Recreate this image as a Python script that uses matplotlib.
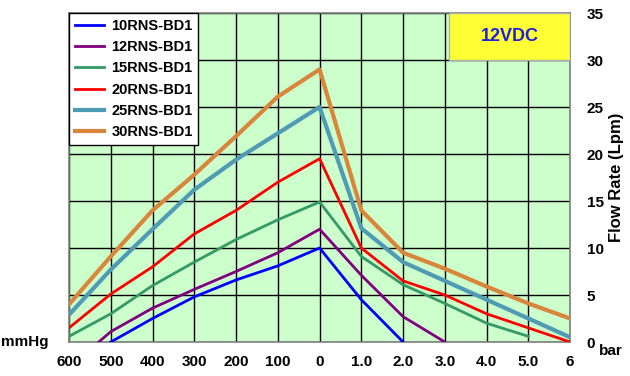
import matplotlib
matplotlib.use("Agg")
import matplotlib.pyplot as plt
import numpy as np

plt.rcParams["font.family"] = ["Liberation Sans", "DejaVu Sans"]
plt.rcParams["font.weight"] = "bold"

# x axis: vacuum side in mmHg (600 -> 0), then pressure side in bar (0 -> 6)
TICK_LABELS = ["600", "500", "400", "300", "200", "100", "0",
               "1.0", "2.0", "3.0", "4.0", "5.0", "6"]

VAC_MMHG = [600, 500, 400, 300, 200, 100, 0]
PRES_BAR = [1.0, 2.0, 3.0, 4.0, 5.0, 6.0]

# flow rate (Lpm) per model: vacuum values then pressure values
vac_10 = [None, 0.0, 2.5, 4.8, 6.6, 8.1, 10.0]
pres_10 = [4.5, 0.0, None, None, None, None]

vac_12 = [None, 1.1, 3.6, 5.6, 7.5, 9.5, 12.0]
pres_12 = [7.1, 2.7, 0.0, None, None, None]
start_12 = (534, -0.2)  # purple line begins between 600 and 500 mmHg

vac_15 = [0.6, 3.0, 6.0, 8.5, 10.9, 13.0, 14.9]
pres_15 = [9.1, 6.1, 4.1, 2.0, 0.6, None]

vac_20 = [1.5, 5.1, 8.0, 11.5, 14.0, 17.0, 19.5]
pres_20 = [10.0, 6.5, 5.0, 3.0, 1.5, 0.0]

vac_25 = [2.9, 7.7, 12.0, 16.2, 19.4, 22.2, 25.0]
pres_25 = [12.1, 8.5, 6.5, 4.5, 2.5, 0.5]

vac_30 = [4.0, 9.1, 14.0, 17.8, 21.9, 26.1, 29.0]
pres_30 = [14.0, 9.5, 7.8, 5.9, 4.1, 2.5]

MODELS = ["10RNS-BD1", "12RNS-BD1", "15RNS-BD1", "20RNS-BD1", "25RNS-BD1", "30RNS-BD1"]
COLORS = ["#0000FF", "#800080", "#339966", "#FF0000", "#4F9AB5", "#D9853B"]
WIDTHS = [2.0, 2.0, 2.0, 2.0, 3.0, 3.0]


def to_pos(vac, pres):
    xs, ys = [], []
    for p, v in zip(VAC_MMHG, vac):
        if v is not None:
            xs.append((600 - p) / 100)
            ys.append(v)
    for b, v in zip(PRES_BAR, pres):
        if v is not None:
            xs.append(6 + b)
            ys.append(v)
    return xs, ys


series = [(vac_10, pres_10), (vac_12, pres_12), (vac_15, pres_15),
          (vac_20, pres_20), (vac_25, pres_25), (vac_30, pres_30)]

fig = plt.figure(figsize=(6.3, 3.76), dpi=100)
ax = fig.add_axes([0.1095, 0.0904, 0.7955, 0.875])
ax.set_facecolor("#CCFFCC")

for i, ((vac, pres), name, col, lw) in enumerate(zip(series, MODELS, COLORS, WIDTHS)):
    xs, ys = to_pos(vac, pres)
    if i == 1:
        xs = [(600 - start_12[0]) / 100] + xs
        ys = [start_12[1]] + ys
    ax.plot(xs, ys, color=col, lw=lw, label=name, clip_on=True, zorder=3)

ax.set_xlim(0, 12)
ax.set_ylim(0, 35)
ax.set_xticks(np.arange(13))
ax.set_xticklabels(TICK_LABELS, fontsize=11, fontweight="bold")
ax.set_yticks(np.arange(0, 36, 5))
ax.tick_params(axis="both", length=0, labelsize=11)
ax.tick_params(axis="x", pad=9)
ax.yaxis.tick_right()
ax.tick_params(axis="y", pad=12)
for t in ax.get_yticklabels():
    t.set_fontweight("bold")
ax.yaxis.set_label_position("right")
ax.set_ylabel("Flow Rate (Lpm)", fontsize=12, fontweight="bold", labelpad=4)
ax.grid(True, color="black", lw=1.0, zorder=1)
ax.set_axisbelow(True)
for s in ax.spines.values():
    s.set_color("#808080")
    s.set_linewidth(1.2)

ax.text(-0.5, 0.0, "mmHg", transform=ax.transData, ha="right", va="center",
        fontsize=11, fontweight="bold")
ax.text(12.7, -1.0, "bar", transform=ax.transData, ha="left", va="center",
        fontsize=11, fontweight="bold")

# 12VDC badge in upper right
ax.add_patch(plt.Rectangle((9.1, 30), 2.9, 5, facecolor="#FFFF33",
                           edgecolor="#B0B0B0", lw=1, zorder=4))
ax.text(10.55, 32.5, "12VDC", ha="center", va="center", color="#2020E0",
        fontsize=13, fontweight="bold", zorder=5)

leg = ax.legend(loc="upper left", bbox_to_anchor=(0.0, 1.0), fontsize=10.5,
                frameon=True, fancybox=False, framealpha=1, edgecolor="black",
                borderaxespad=0, handlelength=2.0, labelspacing=0.5,
                borderpad=0.4, handletextpad=0.5)
leg.get_frame().set_linewidth(1.0)
leg.set_zorder(6)
for t in leg.get_texts():
    t.set_fontweight("bold")

fig.savefig("out.png", dpi=100)
